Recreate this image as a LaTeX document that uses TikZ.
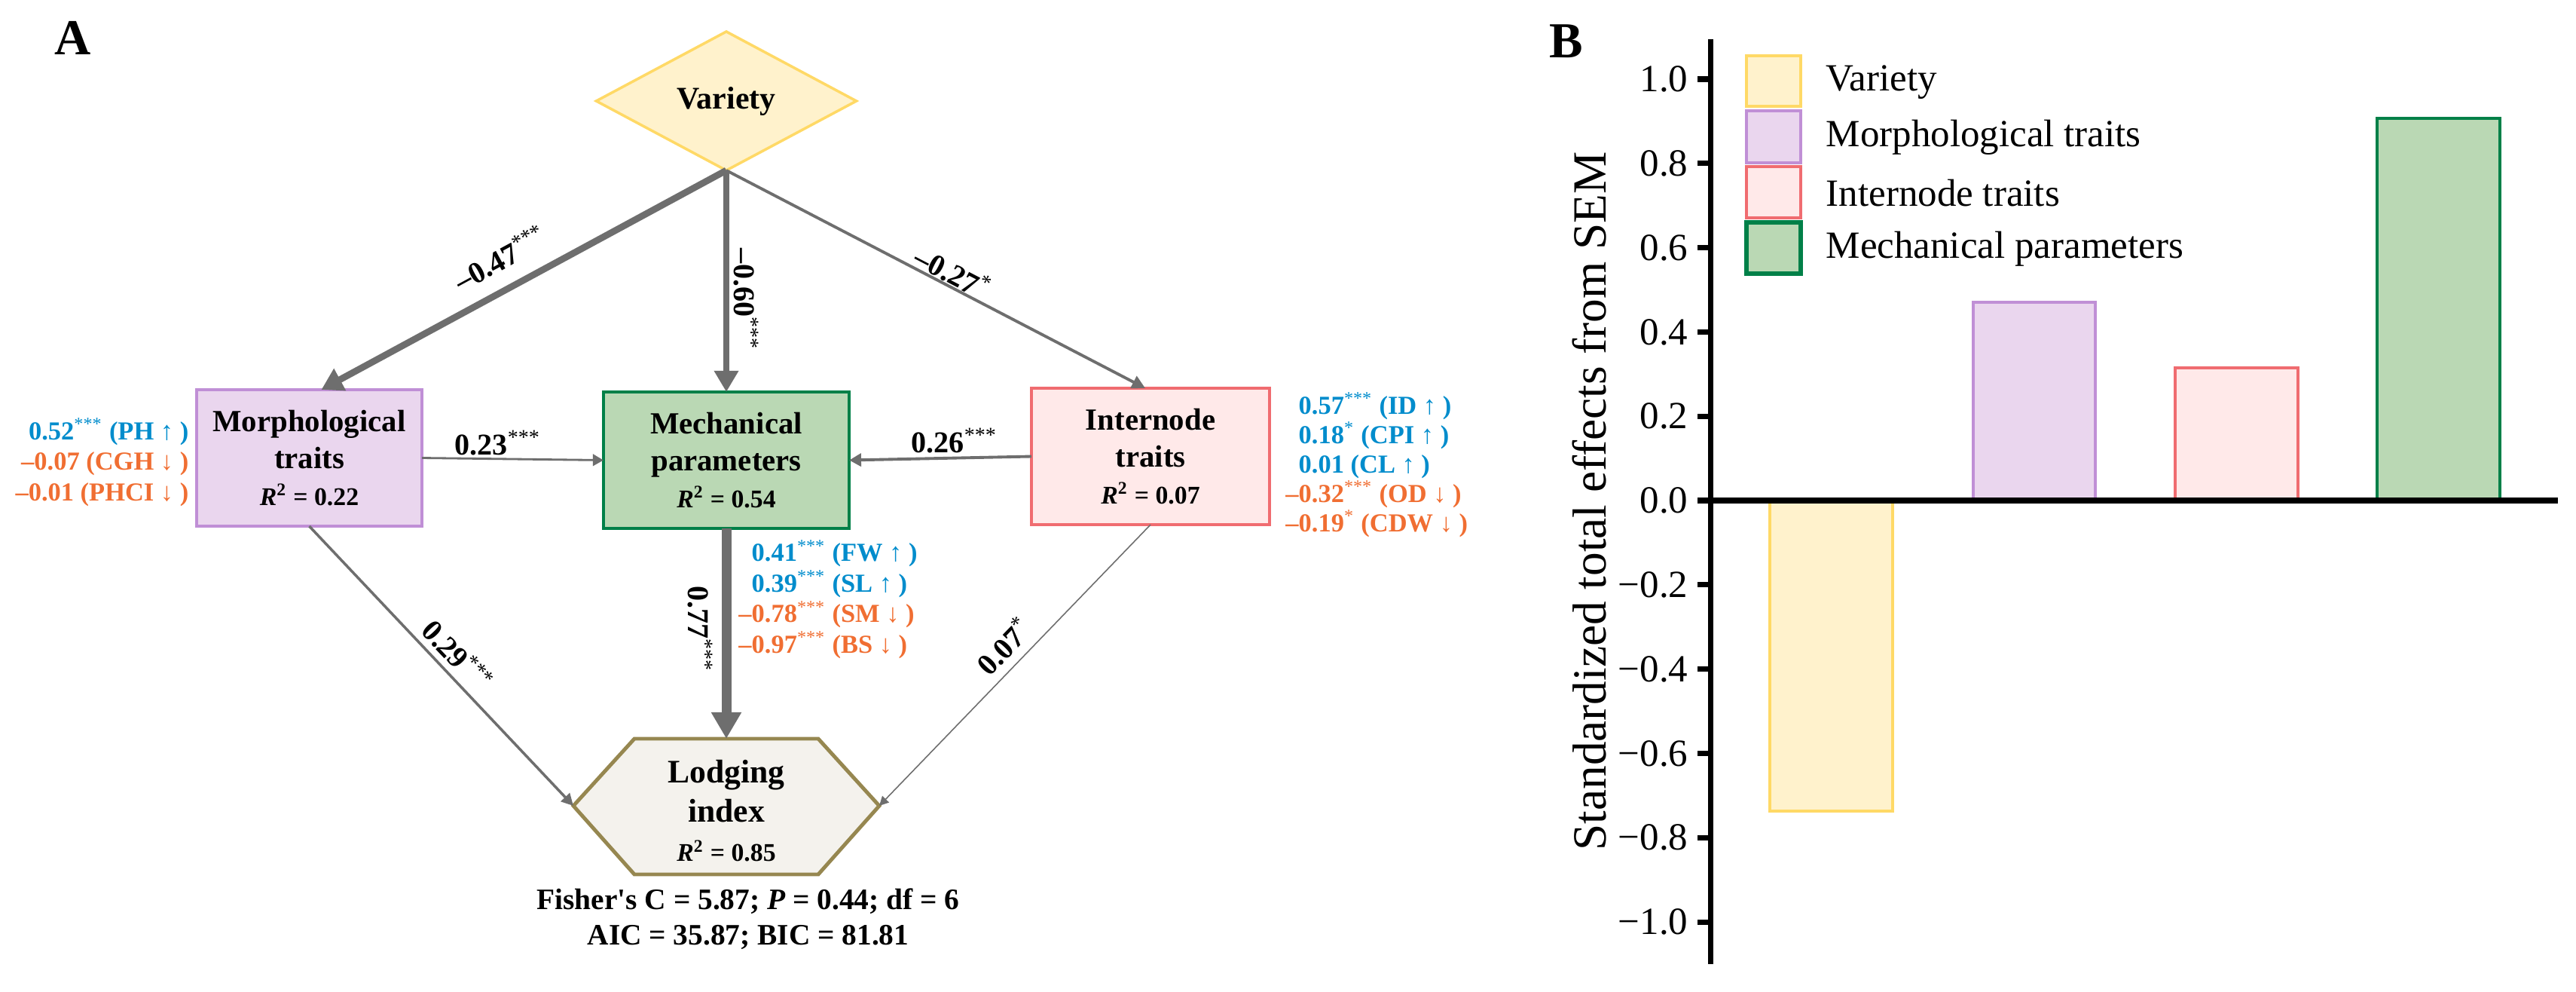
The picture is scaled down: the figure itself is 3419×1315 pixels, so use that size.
\documentclass[tikz,border=0pt]{standalone}
\usepackage{fontspec}
\setmainfont{Liberation Serif}
\usetikzlibrary{arrows.meta,shapes.geometric,calc}

\definecolor{varfill}{RGB}{255,242,204}
\definecolor{vardraw}{RGB}{255,217,102}
\definecolor{morfill}{RGB}{234,214,238}
\definecolor{mordraw}{RGB}{192,143,214}
\definecolor{mecfill}{RGB}{186,216,180}
\definecolor{mecdraw}{RGB}{0,128,72}
\definecolor{intfill}{RGB}{255,233,233}
\definecolor{intdraw}{RGB}{240,108,112}
\definecolor{lodfill}{RGB}{244,242,237}
\definecolor{loddraw}{RGB}{150,135,80}
\definecolor{edgegray}{RGB}{110,110,110}
\definecolor{upblue}{RGB}{0,140,204}
\definecolor{downorange}{RGB}{240,110,50}

\newcommand{\sigstar}[1]{\textsuperscript{\mdseries #1}}
\newcommand{\rsqval}[1]{{\fontsize{9.6}{13.9}\selectfont\textit{R}\textsuperscript{2} = #1}}

\tikzset{
  boxnode/.style={rectangle, inner sep=0pt, outer sep=0pt, align=center,
    font=\bfseries\fontsize{11.6}{13.9}\selectfont, minimum height=1.81cm},
  edgeline/.style={draw=edgegray},
  elabel/.style={inner sep=0pt, font=\bfseries\fontsize{11.4}{13}\selectfont},
  clabel/.style={inner sep=0pt, font=\bfseries\fontsize{9.8}{11.5}\selectfont},
  barstyle/.style={line width=1.2pt},
  ticklab/.style={anchor=east, inner sep=0pt, font=\fontsize{14.5}{16}\selectfont},
  legtext/.style={anchor=west, inner sep=0pt, font=\fontsize{14.5}{16}\selectfont},
  panellab/.style={inner sep=0pt, font=\bfseries\fontsize{19}{20}\selectfont}
}

\begin{document}
\begin{tikzpicture}[x=0.01cm,y=-0.01cm]
\useasboundingbox (0,0) rectangle (3419,1315);

% ---------- Panel A ----------
\node[panellab] (labA) at (97,50) {A};

\node[diamond, draw=vardraw, fill=varfill, line width=1pt, minimum width=3.45cm,
  minimum height=1.84cm, inner sep=0pt, outer sep=0pt,
  font=\bfseries\fontsize{11.9}{14}\selectfont] (var) at (964,134) {Variety};

\node[boxnode, draw=mordraw, fill=morfill, line width=1pt, minimum width=2.99cm]
  (mor) at (410.5,607.5) {Morphological\\traits\\\rsqval{0.22}};
\node[boxnode, draw=mecdraw, fill=mecfill, line width=1.3pt, minimum width=3.26cm]
  (mec) at (964,610.5) {Mechanical\\parameters\\\rsqval{0.54}};
\node[boxnode, draw=intdraw, fill=intfill, line width=1.2pt, minimum width=3.16cm]
  (int) at (1527,605.5) {Internode\\traits\\\rsqval{0.07}};

% lodging hexagon
\coordinate (lodL) at (761,1069);
\coordinate (lodR) at (1167,1069);
\coordinate (lodT) at (964,980);
\draw[draw=loddraw, fill=lodfill, line width=1.4pt, line join=miter]
  (lodL) -- (842,980) -- (1086,980) -- (lodR) -- (1086,1160) -- (842,1160) -- cycle;
\node[inner sep=0pt, align=center, font=\bfseries\fontsize{12.4}{14.8}\selectfont]
  (lod) at (964,1076) {Lodging\\index\\\rsqval{0.85}};

\node[inner sep=0pt, align=center, font=\bfseries\fontsize{11.2}{13.4}\selectfont]
  (fit) at (993,1219) {Fisher\textquotesingle s C = 5.87; \textit{P} = 0.44; df = 6\\AIC = 35.87; BIC = 81.81};

% edges
\draw[edgeline, line width=2.5pt, -{Triangle[length=8pt,width=9pt]}]
  (var.south) -- ([xshift=0.16cm]mor.north);
\draw[edgeline, line width=2.3pt, -{Triangle[length=8pt,width=8.8pt]}]
  (var.south) -- (mec.north);
\draw[edgeline, line width=1.1pt, -{Triangle[length=5pt,width=5pt]}]
  (var.south) -- ([xshift=-0.07cm]int.north);
\draw[edgeline, line width=0.8pt, -{Triangle[length=4pt,width=4.4pt]}]
  (mor.east) -- (mec.west);
\draw[edgeline, line width=1.1pt, -{Triangle[length=4.5pt,width=4.8pt]}]
  (int.west) -- (mec.east);
\draw[edgeline, line width=1pt, -{Triangle[length=4.5pt,width=4.5pt]}]
  (mor.south) -- (lodL);
\draw[edgeline, line width=3.7pt, -{Triangle[length=10pt,width=10.8pt]}]
  (mec.south) -- (lodT);
\draw[edgeline, line width=0.45pt, -{Triangle[length=3.5pt,width=3.5pt]}]
  (int.south) -- (lodR);

% edge labels
\node[elabel, rotate=28.4] (l47) at (664,342) {–0.47\sigstar{***}};
\node[elabel, rotate=-90] (l60) at (990,397) {–0.60\sigstar{***}};
\node[elabel, rotate=-27.5] (l27) at (1265,361) {–0.27\sigstar{*}};
\node[elabel, anchor=base west] (l23) at (603,603) {0.23\sigstar{***}};
\node[elabel, anchor=base west] (l26) at (1209,600) {0.26\sigstar{***}};
\node[elabel, rotate=-46.5] (l29) at (608,869) {0.29\sigstar{***}};
\node[elabel, rotate=-90] (l77) at (929,834) {0.77\sigstar{***}};
\node[elabel, rotate=46] (l07) at (1332,857) {0.07\sigstar{*}};

% coloured indicator labels
\node[clabel, anchor=east, align=right] (morlab) at (251,613)
  {\textcolor{upblue}{0.52\sigstar{***} (PH ↑ )}\\
   \textcolor{downorange}{–0.07 (CGH ↓ )}\\
   \textcolor{downorange}{–0.01 (PHCI ↓ )}};
\node[clabel, anchor=west, align=left] (meclab) at (997,795)
  {\textcolor{upblue}{0.41\sigstar{***} (FW ↑ )}\\
   \textcolor{upblue}{0.39\sigstar{***} (SL ↑ )}\\
   \textcolor{downorange}{\llap{–}0.78\sigstar{***} (SM ↓ )}\\
   \textcolor{downorange}{\llap{–}0.97\sigstar{***} (BS ↓ )}};
\node[clabel, anchor=west, align=left, font=\bfseries\fontsize{9.8}{11.1}\selectfont] (intlab) at (1723,617)
  {\textcolor{upblue}{0.57\sigstar{***} (ID ↑ )}\\
   \textcolor{upblue}{0.18\sigstar{*} (CPI ↑ )}\\
   \textcolor{upblue}{0.01 (CL ↑ )}\\
   \textcolor{downorange}{\llap{–}0.32\sigstar{***} (OD ↓ )}\\
   \textcolor{downorange}{\llap{–}0.19\sigstar{*} (CDW ↓ )}};

% ---------- Panel B ----------
\node[panellab] (labB) at (2079,55) {B};
\node[rotate=90, inner sep=0pt, font=\fontsize{18}{20}\selectfont] (ylab) at (2109,665)
  {Standardized total effects from SEM};

% bars
\draw[barstyle, draw=vardraw, fill=varfill] (2349,664) rectangle (2512,1076);
\draw[barstyle, draw=mordraw, fill=morfill] (2619,664) rectangle (2781,401);
\draw[barstyle, draw=intdraw, fill=intfill] (2887,664) rectangle (3050,488);
\draw[barstyle, draw=mecdraw, fill=mecfill] (3155,664) rectangle (3318,157);

% axes
\draw[line width=2pt] (2270,52) -- (2270,1279);
\draw[line width=2.2pt] (2270,664) -- (3395,664);
\foreach \v/\t [count=\i] in {1/1.0,0.8/0.8,0.6/0.6,0.4/0.4,0.2/0.2,0/0.0,
    -0.2/−0.2,-0.4/−0.4,-0.6/−0.6,-0.8/−0.8,-1/−1.0}{
  \pgfmathsetmacro\yy{664-559*\v}
  \draw[line width=2pt] (2253,\yy) -- (2270,\yy);
  \node[ticklab] (tk\i) at (2241,\yy) {\t};
}

% legend
\draw[line width=1.2pt, draw=vardraw, fill=varfill] (2318,74) rectangle (2390,141);
\draw[line width=1.2pt, draw=mordraw, fill=morfill] (2318,147) rectangle (2390,216);
\draw[line width=1.2pt, draw=intdraw, fill=intfill] (2318,221) rectangle (2390,289);
\draw[line width=1.5pt, draw=mecdraw, fill=mecfill] (2318,295) rectangle (2390,363);
\node[legtext] (leg1) at (2423,109) {Variety};
\node[legtext] (leg2) at (2423,182) {Morphological traits};
\node[legtext] (leg3) at (2423,256) {Internode traits};
\node[legtext] (leg4) at (2423,330) {Mechanical parameters};
\end{tikzpicture}
\end{document}
